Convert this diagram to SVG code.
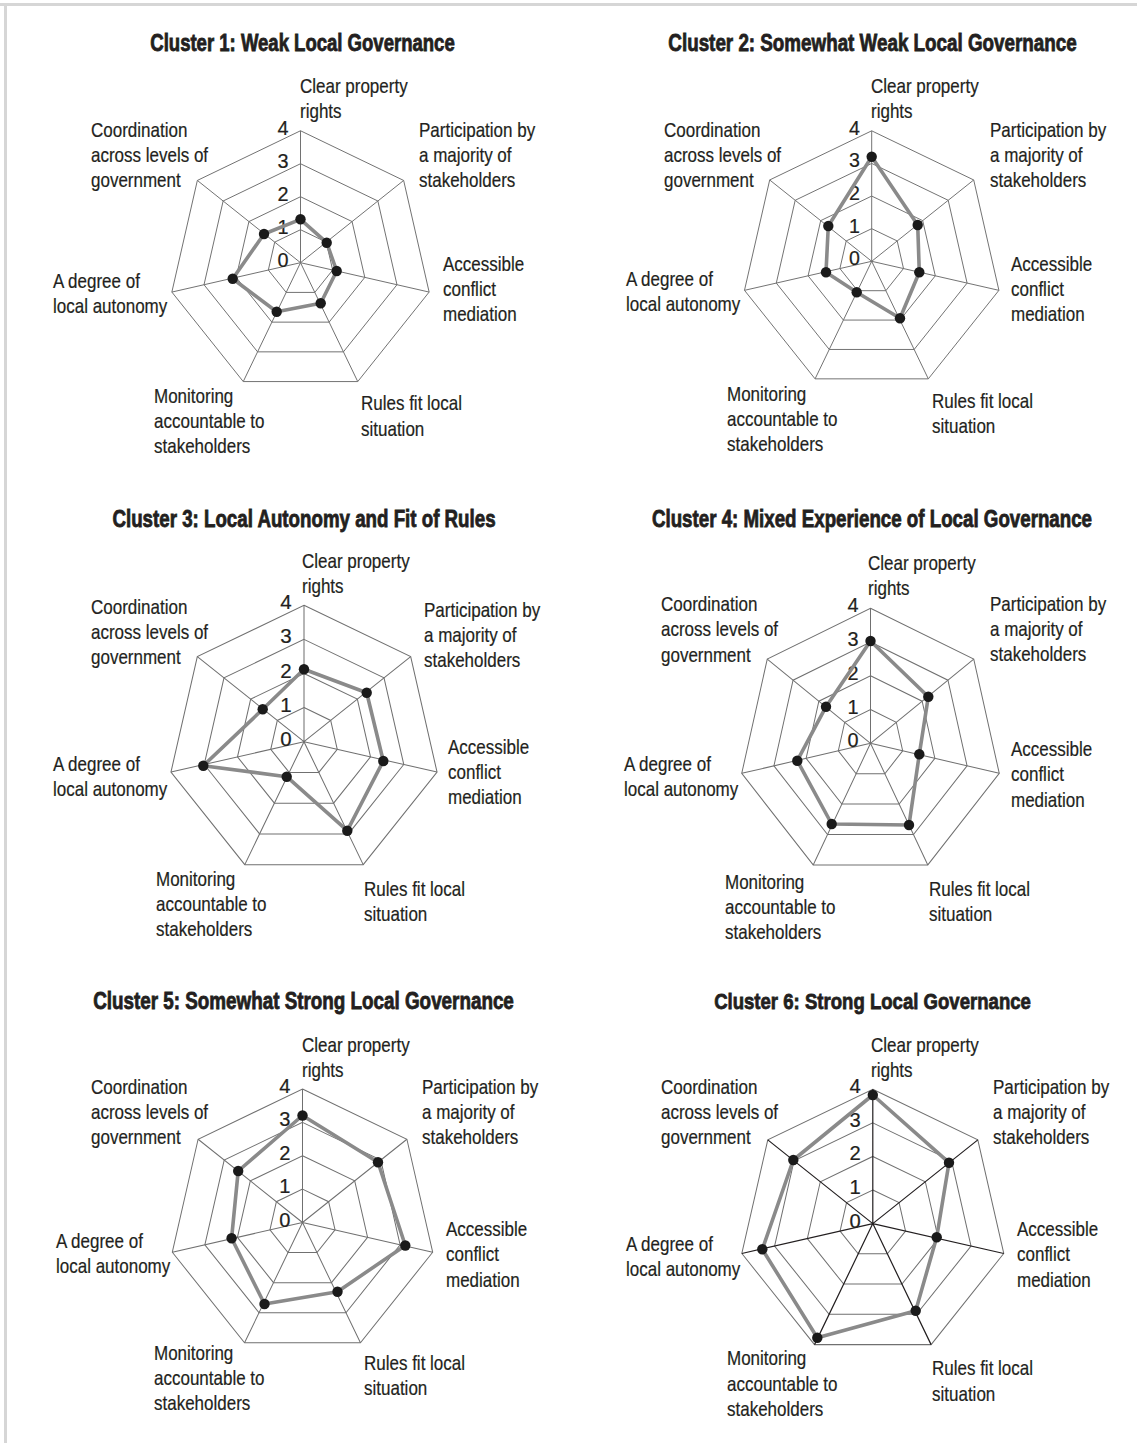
<svg xmlns="http://www.w3.org/2000/svg" width="1137" height="1443" viewBox="0 0 1137 1443">
<style>
.title{font-family:"Liberation Sans",Arial,sans-serif;font-weight:bold;font-size:23px;fill:#231f20;stroke:#231f20;stroke-width:0.8;text-anchor:middle}
.lbl{font-family:"Liberation Sans",Arial,sans-serif;font-size:20px;fill:#231f20;stroke:#231f20;stroke-width:0.2}
.num{font-family:"Liberation Sans",Arial,sans-serif;font-size:20px;fill:#231f20;stroke:#231f20;stroke-width:0.2;text-anchor:end}
.ring{fill:none;stroke:#707070;stroke-width:1}
.spoke{fill:none;stroke:#707070;stroke-width:1}
.spokeDark{fill:none;stroke:#231f20;stroke-width:1.2}
.series{fill:none;stroke:#8a8a8a;stroke-width:3.6;stroke-linejoin:round}
.dot{fill:#1a1a1a}
</style>
<defs>
<g id="rings">
<polygon class="ring" points="0,-33.25 26,-20.73 32.42,7.4 14.43,29.96 -14.43,29.96 -32.42,7.4 -26,-20.73"/>
<polygon class="ring" points="0,-66.5 51.99,-41.46 64.83,14.8 28.85,59.91 -28.85,59.91 -64.83,14.8 -51.99,-41.46"/>
<polygon class="ring" points="0,-99.75 77.99,-62.19 97.25,22.2 43.28,89.87 -43.28,89.87 -97.25,22.2 -77.99,-62.19"/>
<polygon class="ring" points="0,-133 103.98,-82.92 129.67,29.6 57.71,119.83 -57.71,119.83 -129.67,29.6 -103.98,-82.92"/>
</g>
<path id="spokes" d="M0,0V-133M0,0L103.98,-82.92M0,0L129.67,29.6M0,0L57.71,119.83M0,0L-57.71,119.83M0,0L-129.67,29.6M0,0L-103.98,-82.92"/>
<g id="nums">
<text class="num" x="-12" y="-129">4</text>
<text class="num" x="-12" y="-95.75">3</text>
<text class="num" x="-12" y="-62.5">2</text>
<text class="num" x="-12" y="-29.25">1</text>
<text class="num" x="-12" y="4">0</text>
</g>
</defs>

<g id="frame">
<rect x="0" y="3" width="1137" height="3" fill="#d6d6d6"/>
<rect x="4" y="3" width="3" height="1440" fill="#d6d6d6"/>
</g>

<g id="cluster1">
<text class="title" transform="translate(302.5,51) scale(0.806,1)">Cluster 1: Weak Local Governance</text>
<g transform="translate(300.5,262.7) scale(0.992)">
<use href="#rings"/><use href="#spokes" class="spoke"/><use href="#nums"/>
</g>
<polygon class="series" points="300.5,219.3 326.7,242.7 336.7,271 320.7,303.3 276.7,311.7 232.7,278.7 264,234"/>
<g class="dot"><circle cx="300.5" cy="219.3" r="5.2"/><circle cx="326.7" cy="242.7" r="5.2"/><circle cx="336.7" cy="271" r="5.2"/><circle cx="320.7" cy="303.3" r="5.2"/><circle cx="276.7" cy="311.7" r="5.2"/><circle cx="232.7" cy="278.7" r="5.2"/><circle cx="264" cy="234" r="5.2"/></g>
<text class="lbl" transform="translate(300,93) scale(0.85,1)"><tspan x="0" y="0">Clear property</tspan><tspan x="0" y="25">rights</tspan></text>
<text class="lbl" transform="translate(419,137) scale(0.85,1)"><tspan x="0" y="0">Participation by</tspan><tspan x="0" y="25">a majority of</tspan><tspan x="0" y="50">stakeholders</tspan></text>
<text class="lbl" transform="translate(443,271) scale(0.85,1)"><tspan x="0" y="0">Accessible</tspan><tspan x="0" y="25">conflict</tspan><tspan x="0" y="50">mediation</tspan></text>
<text class="lbl" transform="translate(361,410) scale(0.85,1)"><tspan x="0" y="0">Rules fit local</tspan><tspan x="0" y="26">situation</tspan></text>
<text class="lbl" transform="translate(154,403) scale(0.85,1)"><tspan x="0" y="0">Monitoring</tspan><tspan x="0" y="25">accountable to</tspan><tspan x="0" y="50">stakeholders</tspan></text>
<text class="lbl" transform="translate(53,288) scale(0.85,1)"><tspan x="0" y="0">A degree of</tspan><tspan x="0" y="25">local autonomy</tspan></text>
<text class="lbl" transform="translate(91,137) scale(0.85,1)"><tspan x="0" y="0">Coordination</tspan><tspan x="0" y="25">across levels of</tspan><tspan x="0" y="50">government</tspan></text>
</g>

<g id="cluster2">
<text class="title" transform="translate(872.5,51) scale(0.818,1)">Cluster 2: Somewhat Weak Local Governance</text>
<g transform="translate(871.7,261.3) scale(0.981)">
<use href="#rings"/><use href="#spokes" class="spoke"/><use href="#nums"/>
</g>
<polygon class="series" points="871.7,156.7 917.7,225 919.3,272.3 900,318.3 856.7,292.3 826,272.3 828.3,226"/>
<g class="dot"><circle cx="871.7" cy="156.7" r="5.2"/><circle cx="917.7" cy="225" r="5.2"/><circle cx="919.3" cy="272.3" r="5.2"/><circle cx="900" cy="318.3" r="5.2"/><circle cx="856.7" cy="292.3" r="5.2"/><circle cx="826" cy="272.3" r="5.2"/><circle cx="828.3" cy="226" r="5.2"/></g>
<text class="lbl" transform="translate(871,93) scale(0.85,1)"><tspan x="0" y="0">Clear property</tspan><tspan x="0" y="25">rights</tspan></text>
<text class="lbl" transform="translate(990,137) scale(0.85,1)"><tspan x="0" y="0">Participation by</tspan><tspan x="0" y="25">a majority of</tspan><tspan x="0" y="50">stakeholders</tspan></text>
<text class="lbl" transform="translate(1011,271) scale(0.85,1)"><tspan x="0" y="0">Accessible</tspan><tspan x="0" y="25">conflict</tspan><tspan x="0" y="50">mediation</tspan></text>
<text class="lbl" transform="translate(932,408) scale(0.85,1)"><tspan x="0" y="0">Rules fit local</tspan><tspan x="0" y="25">situation</tspan></text>
<text class="lbl" transform="translate(727,401) scale(0.85,1)"><tspan x="0" y="0">Monitoring</tspan><tspan x="0" y="25">accountable to</tspan><tspan x="0" y="50">stakeholders</tspan></text>
<text class="lbl" transform="translate(626,286) scale(0.85,1)"><tspan x="0" y="0">A degree of</tspan><tspan x="0" y="25">local autonomy</tspan></text>
<text class="lbl" transform="translate(664,137) scale(0.85,1)"><tspan x="0" y="0">Coordination</tspan><tspan x="0" y="25">across levels of</tspan><tspan x="0" y="50">government</tspan></text>
</g>

<g id="cluster3">
<text class="title" transform="translate(304,527) scale(0.814,1)">Cluster 3: Local Autonomy and Fit of Rules</text>
<g transform="translate(304,741.7) scale(1.026)">
<use href="#rings"/><use href="#spokes" class="spoke"/><use href="#nums"/>
</g>
<polygon class="series" points="304,669.3 366.7,692.7 383.3,761 347.3,830.7 286.7,776.7 203.3,765.7 262.7,709.3"/>
<g class="dot"><circle cx="304" cy="669.3" r="5.2"/><circle cx="366.7" cy="692.7" r="5.2"/><circle cx="383.3" cy="761" r="5.2"/><circle cx="347.3" cy="830.7" r="5.2"/><circle cx="286.7" cy="776.7" r="5.2"/><circle cx="203.3" cy="765.7" r="5.2"/><circle cx="262.7" cy="709.3" r="5.2"/></g>
<text class="lbl" transform="translate(302,568) scale(0.85,1)"><tspan x="0" y="0">Clear property</tspan><tspan x="0" y="25">rights</tspan></text>
<text class="lbl" transform="translate(424,617) scale(0.85,1)"><tspan x="0" y="0">Participation by</tspan><tspan x="0" y="25">a majority of</tspan><tspan x="0" y="50">stakeholders</tspan></text>
<text class="lbl" transform="translate(448,754) scale(0.85,1)"><tspan x="0" y="0">Accessible</tspan><tspan x="0" y="25">conflict</tspan><tspan x="0" y="50">mediation</tspan></text>
<text class="lbl" transform="translate(364,896) scale(0.85,1)"><tspan x="0" y="0">Rules fit local</tspan><tspan x="0" y="25">situation</tspan></text>
<text class="lbl" transform="translate(156,886) scale(0.85,1)"><tspan x="0" y="0">Monitoring</tspan><tspan x="0" y="25">accountable to</tspan><tspan x="0" y="50">stakeholders</tspan></text>
<text class="lbl" transform="translate(53,771) scale(0.85,1)"><tspan x="0" y="0">A degree of</tspan><tspan x="0" y="25">local autonomy</tspan></text>
<text class="lbl" transform="translate(91,614) scale(0.85,1)"><tspan x="0" y="0">Coordination</tspan><tspan x="0" y="25">across levels of</tspan><tspan x="0" y="50">government</tspan></text>
</g>

<g id="cluster4">
<text class="title" transform="translate(872,527) scale(0.814,1)">Cluster 4: Mixed Experience of Local Governance</text>
<g transform="translate(870.5,743.3) scale(0.993,1.015)">
<use href="#rings"/><use href="#spokes" class="spoke"/><use href="#nums"/>
</g>
<polygon class="series" points="870.5,641 928.3,696.7 919.3,754.3 909,825 831.7,824 797.3,760.7 826,706.7"/>
<g class="dot"><circle cx="870.5" cy="641" r="5.2"/><circle cx="928.3" cy="696.7" r="5.2"/><circle cx="919.3" cy="754.3" r="5.2"/><circle cx="909" cy="825" r="5.2"/><circle cx="831.7" cy="824" r="5.2"/><circle cx="797.3" cy="760.7" r="5.2"/><circle cx="826" cy="706.7" r="5.2"/></g>
<text class="lbl" transform="translate(868,570) scale(0.85,1)"><tspan x="0" y="0">Clear property</tspan><tspan x="0" y="25">rights</tspan></text>
<text class="lbl" transform="translate(990,611) scale(0.85,1)"><tspan x="0" y="0">Participation by</tspan><tspan x="0" y="25">a majority of</tspan><tspan x="0" y="50">stakeholders</tspan></text>
<text class="lbl" transform="translate(1011,756) scale(0.85,1)"><tspan x="0" y="0">Accessible</tspan><tspan x="0" y="25">conflict</tspan><tspan x="0" y="51">mediation</tspan></text>
<text class="lbl" transform="translate(929,896) scale(0.85,1)"><tspan x="0" y="0">Rules fit local</tspan><tspan x="0" y="25">situation</tspan></text>
<text class="lbl" transform="translate(725,889) scale(0.85,1)"><tspan x="0" y="0">Monitoring</tspan><tspan x="0" y="25">accountable to</tspan><tspan x="0" y="50">stakeholders</tspan></text>
<text class="lbl" transform="translate(624,771) scale(0.85,1)"><tspan x="0" y="0">A degree of</tspan><tspan x="0" y="25">local autonomy</tspan></text>
<text class="lbl" transform="translate(661,611) scale(0.85,1)"><tspan x="0" y="0">Coordination</tspan><tspan x="0" y="25">across levels of</tspan><tspan x="0" y="51">government</tspan></text>
</g>

<g id="cluster5">
<text class="title" transform="translate(303.5,1009) scale(0.819,1)">Cluster 5: Somewhat Strong Local Governance</text>
<g transform="translate(302.5,1222.5) scale(1.004)">
<use href="#rings"/><use href="#spokes" class="spoke"/><use href="#nums"/>
</g>
<polygon class="series" points="302.5,1115.5 378,1162.3 405.3,1245.5 337.5,1291.7 264.5,1304 231.6,1238.3 238.2,1171"/>
<g class="dot"><circle cx="302.5" cy="1115.5" r="5.2"/><circle cx="378" cy="1162.3" r="5.2"/><circle cx="405.3" cy="1245.5" r="5.2"/><circle cx="337.5" cy="1291.7" r="5.2"/><circle cx="264.5" cy="1304" r="5.2"/><circle cx="231.6" cy="1238.3" r="5.2"/><circle cx="238.2" cy="1171" r="5.2"/></g>
<text class="lbl" transform="translate(302,1052) scale(0.85,1)"><tspan x="0" y="0">Clear property</tspan><tspan x="0" y="25">rights</tspan></text>
<text class="lbl" transform="translate(422,1094) scale(0.85,1)"><tspan x="0" y="0">Participation by</tspan><tspan x="0" y="25">a majority of</tspan><tspan x="0" y="50">stakeholders</tspan></text>
<text class="lbl" transform="translate(446,1236) scale(0.85,1)"><tspan x="0" y="0">Accessible</tspan><tspan x="0" y="25">conflict</tspan><tspan x="0" y="51">mediation</tspan></text>
<text class="lbl" transform="translate(364,1370) scale(0.85,1)"><tspan x="0" y="0">Rules fit local</tspan><tspan x="0" y="25">situation</tspan></text>
<text class="lbl" transform="translate(154,1360) scale(0.85,1)"><tspan x="0" y="0">Monitoring</tspan><tspan x="0" y="25">accountable to</tspan><tspan x="0" y="50">stakeholders</tspan></text>
<text class="lbl" transform="translate(56,1248) scale(0.85,1)"><tspan x="0" y="0">A degree of</tspan><tspan x="0" y="25">local autonomy</tspan></text>
<text class="lbl" transform="translate(91,1094) scale(0.85,1)"><tspan x="0" y="0">Coordination</tspan><tspan x="0" y="25">across levels of</tspan><tspan x="0" y="50">government</tspan></text>
</g>

<g id="cluster6">
<text class="title" transform="translate(872.5,1009) scale(0.808,1)">Cluster 6: Strong Local Governance</text>
<g transform="translate(872.8,1223.6) scale(1.01)">
<use href="#rings"/><use href="#spokes" class="spokeDark"/><use href="#nums"/>
</g>
<polygon class="series" points="872.8,1095 949,1162.7 936.7,1237.3 915.7,1310.7 817.3,1337.7 762.3,1249.3 793.3,1160"/>
<g class="dot"><circle cx="872.8" cy="1095" r="5.2"/><circle cx="949" cy="1162.7" r="5.2"/><circle cx="936.7" cy="1237.3" r="5.2"/><circle cx="915.7" cy="1310.7" r="5.2"/><circle cx="817.3" cy="1337.7" r="5.2"/><circle cx="762.3" cy="1249.3" r="5.2"/><circle cx="793.3" cy="1160" r="5.2"/></g>
<text class="lbl" transform="translate(871,1052) scale(0.85,1)"><tspan x="0" y="0">Clear property</tspan><tspan x="0" y="25">rights</tspan></text>
<text class="lbl" transform="translate(993,1094) scale(0.85,1)"><tspan x="0" y="0">Participation by</tspan><tspan x="0" y="25">a majority of</tspan><tspan x="0" y="50">stakeholders</tspan></text>
<text class="lbl" transform="translate(1017,1236) scale(0.85,1)"><tspan x="0" y="0">Accessible</tspan><tspan x="0" y="25">conflict</tspan><tspan x="0" y="51">mediation</tspan></text>
<text class="lbl" transform="translate(932,1375) scale(0.85,1)"><tspan x="0" y="0">Rules fit local</tspan><tspan x="0" y="26">situation</tspan></text>
<text class="lbl" transform="translate(727,1365) scale(0.85,1)"><tspan x="0" y="0">Monitoring</tspan><tspan x="0" y="26">accountable to</tspan><tspan x="0" y="51">stakeholders</tspan></text>
<text class="lbl" transform="translate(626,1251) scale(0.85,1)"><tspan x="0" y="0">A degree of</tspan><tspan x="0" y="25">local autonomy</tspan></text>
<text class="lbl" transform="translate(661,1094) scale(0.85,1)"><tspan x="0" y="0">Coordination</tspan><tspan x="0" y="25">across levels of</tspan><tspan x="0" y="50">government</tspan></text>
</g>
</svg>
